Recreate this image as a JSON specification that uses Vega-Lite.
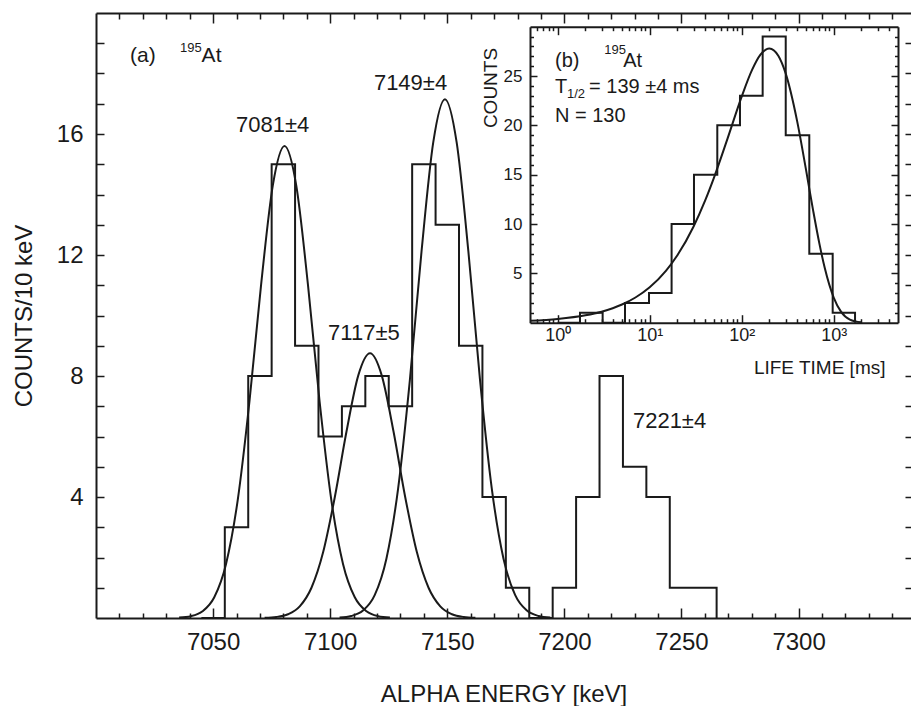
{
  "$schema": "https://vega.github.io/schema/vega-lite/v6.json",
  "width": 815,
  "height": 605,
  "autosize": {"type": "none"},
  "padding": {"left": 96, "top": 13, "right": 0, "bottom": 88},
  "background": "white",
  "config": {
    "font": "Liberation Sans",
    "view": {"stroke": null},
    "axis": {"grid": false, "domainColor": "#1a1a1a", "domainWidth": 2, "tickColor": "#1a1a1a", "tickWidth": 1.5, "labelColor": "#1a1a1a", "titleColor": "#1a1a1a", "titleFontWeight": "normal", "labelFont": "Liberation Sans", "titleFont": "Liberation Sans"},
    "text": {"color": "#1a1a1a", "font": "Liberation Sans"},
    "line": {"color": "#1a1a1a", "strokeWidth": 2}
  },
  "datasets": {
    "hist": [
      {"E": 7045, "C": 0}, {"E": 7055, "C": 3}, {"E": 7065, "C": 8}, {"E": 7075, "C": 15}, {"E": 7085, "C": 9},
      {"E": 7095, "C": 6}, {"E": 7105, "C": 7}, {"E": 7115, "C": 8}, {"E": 7125, "C": 7}, {"E": 7135, "C": 15},
      {"E": 7145, "C": 13}, {"E": 7155, "C": 9}, {"E": 7165, "C": 4}, {"E": 7175, "C": 1}, {"E": 7185, "C": 0},
      {"E": 7195, "C": 1}, {"E": 7205, "C": 4}, {"E": 7215, "C": 8}, {"E": 7225, "C": 5}, {"E": 7235, "C": 4},
      {"E": 7245, "C": 1}, {"E": 7255, "C": 1}, {"E": 7265, "C": 0}
    ],
    "gauss": [
      {"p": 1, "E": 7035.5, "C": 0.014}, {"p": 1, "E": 7040.5, "C": 0.06}, {"p": 1, "E": 7045.5, "C": 0.222}, {"p": 1, "E": 7050.5, "C": 0.685},
      {"p": 1, "E": 7055.5, "C": 1.78}, {"p": 1, "E": 7060.5, "C": 3.89}, {"p": 1, "E": 7065.5, "C": 7.14}, {"p": 1, "E": 7070.5, "C": 11.02},
      {"p": 1, "E": 7075.5, "C": 14.3}, {"p": 1, "E": 7080.5, "C": 15.6}, {"p": 1, "E": 7085.5, "C": 14.3}, {"p": 1, "E": 7090.5, "C": 11.02},
      {"p": 1, "E": 7095.5, "C": 7.14}, {"p": 1, "E": 7100.5, "C": 3.89}, {"p": 1, "E": 7105.5, "C": 1.78}, {"p": 1, "E": 7110.5, "C": 0.685},
      {"p": 1, "E": 7115.5, "C": 0.222}, {"p": 1, "E": 7120.5, "C": 0.06}, {"p": 1, "E": 7125.5, "C": 0.014},
      {"p": 2, "E": 7072, "C": 0.008}, {"p": 2, "E": 7077, "C": 0.034}, {"p": 2, "E": 7082, "C": 0.124}, {"p": 2, "E": 7087, "C": 0.384},
      {"p": 2, "E": 7092, "C": 1.0}, {"p": 2, "E": 7097, "C": 2.18}, {"p": 2, "E": 7102, "C": 4.01}, {"p": 2, "E": 7107, "C": 6.18},
      {"p": 2, "E": 7112, "C": 8.02}, {"p": 2, "E": 7117, "C": 8.75}, {"p": 2, "E": 7122, "C": 8.02}, {"p": 2, "E": 7127, "C": 6.18},
      {"p": 2, "E": 7132, "C": 4.01}, {"p": 2, "E": 7137, "C": 2.18}, {"p": 2, "E": 7142, "C": 1.0}, {"p": 2, "E": 7147, "C": 0.384},
      {"p": 2, "E": 7152, "C": 0.124}, {"p": 2, "E": 7157, "C": 0.034}, {"p": 2, "E": 7162, "C": 0.008},
      {"p": 3, "E": 7104, "C": 0.015}, {"p": 3, "E": 7109, "C": 0.066}, {"p": 3, "E": 7114, "C": 0.244}, {"p": 3, "E": 7119, "C": 0.754},
      {"p": 3, "E": 7124, "C": 1.96}, {"p": 3, "E": 7129, "C": 4.28}, {"p": 3, "E": 7134, "C": 7.85}, {"p": 3, "E": 7139, "C": 12.12},
      {"p": 3, "E": 7144, "C": 15.72}, {"p": 3, "E": 7149, "C": 17.15}, {"p": 3, "E": 7154, "C": 15.72}, {"p": 3, "E": 7159, "C": 12.12},
      {"p": 3, "E": 7164, "C": 7.85}, {"p": 3, "E": 7169, "C": 4.28}, {"p": 3, "E": 7174, "C": 1.96}, {"p": 3, "E": 7179, "C": 0.754},
      {"p": 3, "E": 7184, "C": 0.244}, {"p": 3, "E": 7189, "C": 0.066}, {"p": 3, "E": 7194, "C": 0.015}
    ],
    "peakLabels": [
      {"E": 7075.4, "C": 16.3, "t": "7081±4"},
      {"E": 7134.3, "C": 17.68, "t": "7149±4"},
      {"E": 7114.4, "C": 9.41, "t": "7117±5"},
      {"E": 7244.9, "C": 6.52, "t": "7221±4"}
    ],
    "aLabels": [
      {"E": 7014.5, "C": 18.58, "t": "(a)"},
      {"E": 7045.1, "C": 18.58, "t": "At"}
    ],
    "aSup": [
      {"E": 7035.9, "C": 18.84, "t": "195"}
    ],
    "lifeHist": [
      {"T": 1.0, "N": 0}, {"T": 1.747, "N": 1}, {"T": 3.08, "N": 0}, {"T": 5.39, "N": 2}, {"T": 9.83, "N": 3},
      {"T": 17.3, "N": 10}, {"T": 30.3, "N": 15}, {"T": 54.3, "N": 20}, {"T": 95.8, "N": 23}, {"T": 169, "N": 29},
      {"T": 301, "N": 19}, {"T": 543, "N": 7}, {"T": 975, "N": 1}, {"T": 1706, "N": 0}
    ],
    "lifeFit": [
      {"T": 0.5, "N": 0.189}, {"T": 1, "N": 0.376}, {"T": 2, "N": 0.748}, {"T": 3, "N": 1.117}, {"T": 5, "N": 1.843},
      {"T": 7, "N": 2.554}, {"T": 10, "N": 3.594}, {"T": 15, "N": 5.258}, {"T": 20, "N": 6.838}, {"T": 30, "N": 9.756},
      {"T": 40, "N": 12.374}, {"T": 50, "N": 14.713}, {"T": 70, "N": 18.638}, {"T": 100, "N": 22.917}, {"T": 130, "N": 25.643},
      {"T": 160, "N": 27.164}, {"T": 200, "N": 27.8}, {"T": 250, "N": 27.063}, {"T": 300, "N": 25.291}, {"T": 400, "N": 20.454},
      {"T": 500, "N": 15.507}, {"T": 600, "N": 11.286}, {"T": 700, "N": 7.988}, {"T": 800, "N": 5.536}, {"T": 1000, "N": 2.546},
      {"T": 1200, "N": 1.124}, {"T": 1500, "N": 0.313}, {"T": 2000, "N": 0.034}
    ],
    "insetTextA": [
      {"T": 0.935, "N": 26.52, "t": "(b)"},
      {"T": 5.16, "N": 26.52, "t": "At"},
      {"T": 0.935, "N": 20.95, "t": "N = 130"}
    ],
    "insetTextB": [
      {"T": 0.935, "N": 23.84, "t": "T"},
      {"T": 2.19, "N": 23.84, "t": "= 139 ±4 ms"}
    ],
    "insetSmall": [
      {"T": 3.21, "N": 27.64, "t": "195"},
      {"T": 1.262, "N": 23.2, "t": "1/2"}
    ]
  },
  "layer": [
    {
      "resolve": {"axis": {"x": "independent", "y": "independent"}},
      "layer": [
        {
          "data": {"name": "hist"},
          "mark": {"type": "line", "interpolate": "step-after", "strokeWidth": 2, "color": "#1a1a1a"},
          "encoding": {
            "x": {"field": "E", "type": "quantitative", "scale": {"domain": [7000, 7348], "nice": false, "zero": false},
              "axis": {"orient": "bottom", "values": [7050, 7100, 7150, 7200, 7250, 7300], "format": "d", "ticks": false, "labelPadding": 12, "labelFontSize": 24, "labelFlush": false,
                "title": "ALPHA ENERGY [keV]", "titleFontSize": 24, "titleX": 407.5, "titleY": 83, "titleBaseline": "alphabetic", "titleAlign": "center"}},
            "y": {"field": "C", "type": "quantitative", "scale": {"domain": [0, 20], "nice": false, "zero": false},
              "axis": {"orient": "left", "values": [4, 8, 12, 16], "ticks": false, "labelPadding": 13, "labelFontSize": 24, "labelFlush": false,
                "title": "COUNTS/10 keV", "titleFontSize": 24, "titleAngle": 270, "titleX": -65, "titleY": 302.5, "titleBaseline": "alphabetic", "titleAlign": "center"}}
          }
        },
        {
          "data": {"name": "gauss"},
          "mark": {"type": "line", "interpolate": "monotone", "strokeWidth": 2, "color": "#1a1a1a"},
          "encoding": {
            "x": {"field": "E", "type": "quantitative", "scale": {"domain": [7000, 7348], "nice": false, "zero": false},
              "axis": {"orient": "bottom", "values": [7050, 7100, 7150, 7200, 7250, 7300], "tickSize": -10, "labels": false, "domain": false, "title": null}},
            "y": {"field": "C", "type": "quantitative", "scale": {"domain": [0, 20], "nice": false, "zero": false},
              "axis": {"orient": "left", "values": [1,2,3,4,5,6,7,8,9,10,11,12,13,14,15,16,17,18,19], "tickSize": -8, "labels": false, "domain": false, "title": null}},
            "detail": {"field": "p", "type": "nominal"}
          }
        },
        {
          "data": {"name": "peakLabels"},
          "mark": {"type": "text", "align": "center", "baseline": "middle", "fontSize": 22},
          "encoding": {
            "x": {"field": "E", "type": "quantitative", "scale": {"domain": [7000, 7348], "nice": false, "zero": false},
              "axis": {"orient": "bottom", "values": [7010,7020,7030,7040,7060,7070,7080,7090,7110,7120,7130,7140,7160,7170,7180,7190,7210,7220,7230,7240,7260,7270,7280,7290,7310,7320,7330,7340], "tickSize": -5, "labels": false, "domain": false, "title": null}},
            "y": {"field": "C", "type": "quantitative", "scale": {"domain": [0, 20], "nice": false, "zero": false},
              "axis": {"orient": "right", "values": [1,2,3,4,5,6,7,8,9,10,11,12,13,14,15,16,17,18,19], "tickSize": -6, "labels": false, "domain": false, "title": null}},
            "text": {"field": "t", "type": "nominal"}
          }
        },
        {
          "data": {"name": "aLabels"},
          "mark": {"type": "text", "align": "left", "baseline": "middle", "fontSize": 21},
          "encoding": {
            "x": {"field": "E", "type": "quantitative", "scale": {"domain": [7000, 7348], "nice": false, "zero": false},
              "axis": {"orient": "top", "values": [7050, 7100, 7150, 7200, 7250, 7300], "tickSize": -10, "labels": false, "domain": true, "title": null}},
            "y": {"field": "C", "type": "quantitative", "scale": {"domain": [0, 20], "nice": false, "zero": false}, "axis": null},
            "text": {"field": "t", "type": "nominal"}
          }
        },
        {
          "data": {"name": "aSup"},
          "mark": {"type": "text", "align": "left", "baseline": "middle", "fontSize": 13},
          "encoding": {
            "x": {"field": "E", "type": "quantitative", "scale": {"domain": [7000, 7348], "nice": false, "zero": false},
              "axis": {"orient": "top", "values": [7010,7020,7030,7040,7060,7070,7080,7090,7110,7120,7130,7140,7160,7170,7180,7190,7210,7220,7230,7240,7260,7270,7280,7290,7310,7320,7330,7340], "tickSize": -6, "labels": false, "domain": false, "title": null}},
            "y": {"field": "C", "type": "quantitative", "scale": {"domain": [0, 20], "nice": false, "zero": false}, "axis": null},
            "text": {"field": "t", "type": "nominal"}
          }
        }
      ]
    },
    {
      "resolve": {"axis": {"x": "independent", "y": "independent"}},
      "layer": [
        {
          "data": {"name": "lifeHist"},
          "mark": {"type": "line", "interpolate": "step-after", "strokeWidth": 2, "color": "#1a1a1a"},
          "encoding": {
            "x": {"field": "T", "type": "quantitative", "scale": {"type": "log", "domain": [0.5, 5000], "range": [434, 802], "nice": false},
              "axis": {"orient": "bottom", "offset": -295.3, "values": [1, 10, 100, 1000], "ticks": false, "labelPadding": 4, "labelFontSize": 18, "labelFlush": false,
                "labelExpr": "datum.value == 1 ? '10⁰' : datum.value == 10 ? '10¹' : datum.value == 100 ? '10²' : '10³'",
                "title": "LIFE TIME [ms]", "titleFontSize": 19, "titleX": 789, "titleY": 51, "titleAlign": "right", "titleBaseline": "alphabetic"}},
            "y": {"field": "N", "type": "quantitative", "scale": {"domain": [0, 30], "range": [309.7, 13.7], "nice": false, "zero": false},
              "axis": {"orient": "left", "offset": -434, "values": [5, 10, 15, 20, 25], "ticks": false, "labelPadding": 8, "labelFontSize": 17, "labelFlush": false,
                "title": "COUNTS", "titleFontSize": 19, "titleAngle": 270, "titleX": -34, "titleY": 74.5, "titleBaseline": "alphabetic", "titleAlign": "center"}}
          }
        },
        {
          "data": {"name": "lifeFit"},
          "mark": {"type": "line", "interpolate": "monotone", "strokeWidth": 2, "color": "#1a1a1a"},
          "encoding": {
            "x": {"field": "T", "type": "quantitative", "scale": {"type": "log", "domain": [0.5, 5000], "range": [434, 802], "nice": false},
              "axis": {"orient": "bottom", "offset": -295.3, "values": [1, 10, 100, 1000], "tickSize": -8, "labels": false, "domain": false, "title": null}},
            "y": {"field": "N", "type": "quantitative", "scale": {"domain": [0, 30], "range": [309.7, 13.7], "nice": false, "zero": false},
              "axis": {"orient": "left", "offset": -434, "values": [5, 10, 15, 20, 25], "tickSize": -7, "labels": false, "domain": false, "title": null}}
          }
        },
        {
          "data": {"name": "insetTextA"},
          "mark": {"type": "text", "align": "left", "baseline": "middle", "fontSize": 20},
          "encoding": {
            "x": {"field": "T", "type": "quantitative", "scale": {"type": "log", "domain": [0.5, 5000], "range": [434, 802], "nice": false},
              "axis": {"orient": "bottom", "offset": -295.3, "values": [0.6,0.7,0.8,0.9,2,3,4,5,6,7,8,9,20,30,40,50,60,70,80,90,200,300,400,500,600,700,800,900,2000,3000,4000], "tickSize": -4, "labels": false, "domain": false, "title": null}},
            "y": {"field": "N", "type": "quantitative", "scale": {"domain": [0, 30], "range": [309.7, 13.7], "nice": false, "zero": false},
              "axis": {"orient": "left", "offset": -434, "values": [1,2,3,4,6,7,8,9,11,12,13,14,16,17,18,19,21,22,23,24,26,27,28,29], "tickSize": -3.5, "labels": false, "domain": false, "title": null}},
            "text": {"field": "t", "type": "nominal"}
          }
        },
        {
          "data": {"name": "insetTextB"},
          "mark": {"type": "text", "align": "left", "baseline": "middle", "fontSize": 20},
          "encoding": {
            "x": {"field": "T", "type": "quantitative", "scale": {"type": "log", "domain": [0.5, 5000], "range": [434, 802], "nice": false},
              "axis": {"orient": "top", "offset": -13.7, "values": [1, 10, 100, 1000], "tickSize": -8, "labels": false, "domain": true, "title": null}},
            "y": {"field": "N", "type": "quantitative", "scale": {"domain": [0, 30], "range": [309.7, 13.7], "nice": false, "zero": false},
              "axis": {"orient": "right", "offset": -13, "values": [5, 10, 15, 20, 25], "tickSize": -7, "labels": false, "domain": true, "title": null}},
            "text": {"field": "t", "type": "nominal"}
          }
        },
        {
          "data": {"name": "insetSmall"},
          "mark": {"type": "text", "align": "left", "baseline": "middle", "fontSize": 13},
          "encoding": {
            "x": {"field": "T", "type": "quantitative", "scale": {"type": "log", "domain": [0.5, 5000], "range": [434, 802], "nice": false},
              "axis": {"orient": "top", "offset": -13.7, "values": [0.6,0.7,0.8,0.9,2,3,4,5,6,7,8,9,20,30,40,50,60,70,80,90,200,300,400,500,600,700,800,900,2000,3000,4000], "tickSize": -4, "labels": false, "domain": false, "title": null}},
            "y": {"field": "N", "type": "quantitative", "scale": {"domain": [0, 30], "range": [309.7, 13.7], "nice": false, "zero": false},
              "axis": {"orient": "right", "offset": -13, "values": [1,2,3,4,6,7,8,9,11,12,13,14,16,17,18,19,21,22,23,24,26,27,28,29], "tickSize": -3.5, "labels": false, "domain": false, "title": null}},
            "text": {"field": "t", "type": "nominal"}
          }
        }
      ]
    }
  ],
  "resolve": {"scale": {"x": "independent", "y": "independent"}, "axis": {"x": "independent", "y": "independent"}}
}
